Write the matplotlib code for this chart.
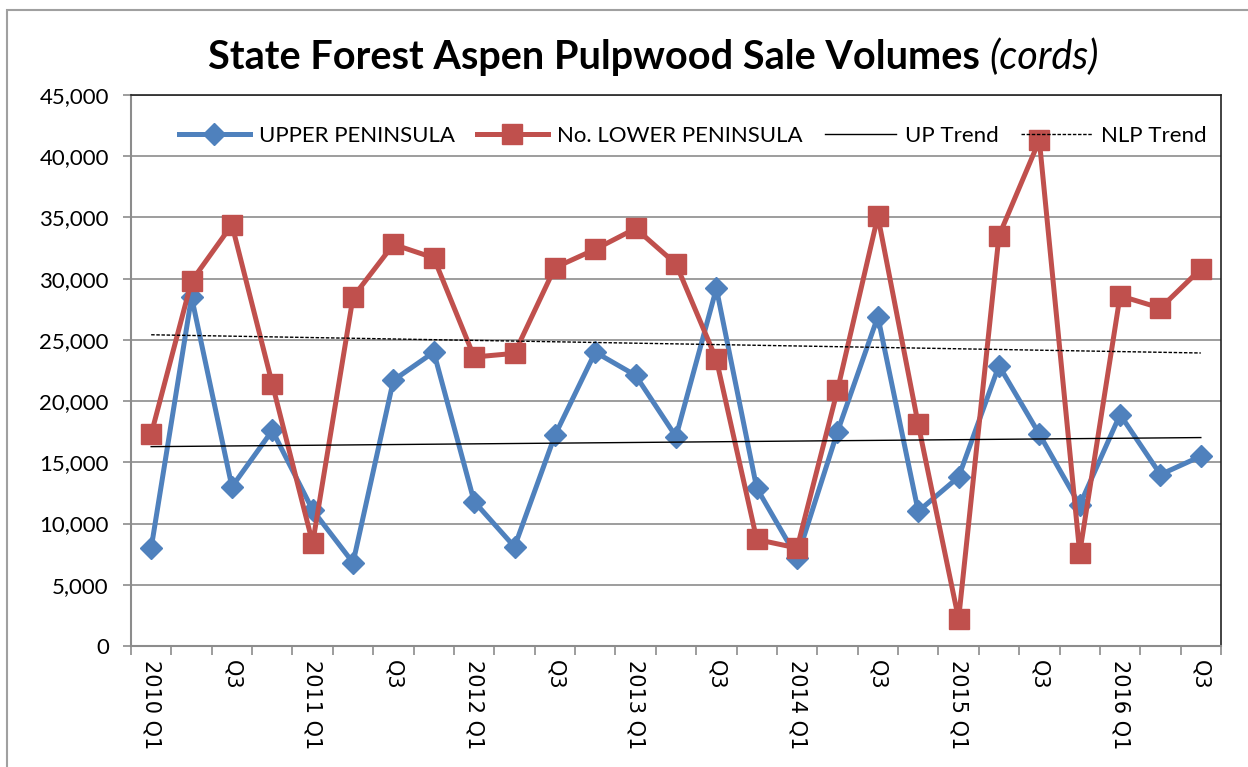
import numpy as np
import matplotlib
matplotlib.use("Agg")
import matplotlib.pyplot as plt
from matplotlib.patches import Rectangle

quarters = ["2010 Q1", "Q2", "Q3", "Q4",
            "2011 Q1", "Q2", "Q3", "Q4",
            "2012 Q1", "Q2", "Q3", "Q4",
            "2013 Q1", "Q2", "Q3", "Q4",
            "2014 Q1", "Q2", "Q3", "Q4",
            "2015 Q1", "Q2", "Q3", "Q4",
            "2016 Q1", "Q2", "Q3"]

up_vol = [8000, 28500, 13000, 17600,
          11100, 6800, 21700, 24000,
          11800, 8100, 17200, 24000,
          22100, 17100, 29200, 12900,
          7200, 17500, 26900, 11000,
          13800, 22900, 17300, 11500,
          18900, 14000, 15500]

nlp_vol = [17300, 29800, 34400, 21400,
           8400, 28500, 32800, 31700,
           23600, 23900, 30900, 32400,
           34100, 31200, 23400, 8700,
           8000, 20900, 35100, 18100,
           2200, 33500, 41300, 7600,
           28600, 27600, 30800]

blue = "#4F81BD"
red = "#C0504D"

plt.rcParams['font.family'] = ['Lato', 'DejaVu Sans']

fig = plt.figure(figsize=(12.48, 7.67), dpi=100)
ax = fig.add_axes([131/1248, 1-646/767, (1221-131)/1248, (646-95)/767])

x = np.arange(len(quarters))

# linear trends, same as excel's
up_fit = np.polyfit(x, up_vol, 1)
nlp_fit = np.polyfit(x, nlp_vol, 1)

ax.plot(x, up_vol, color=blue, lw=3.6, marker='D', ms=11, label="UPPER PENINSULA", zorder=3)
ax.plot(x, nlp_vol, color=red, lw=3.6, marker='s', ms=14, label="No. LOWER PENINSULA", zorder=4)
ax.plot(x, np.polyval(up_fit, x), color='k', lw=1.0, label="UP Trend", zorder=5)
ax.plot(x, np.polyval(nlp_fit, x), color='k', lw=1.0, ls=(0, (2.5, 1.2)), label="NLP Trend", zorder=5)

ax.set_xlim(-0.5, len(quarters)-0.5)
ax.set_ylim(0, 45000)
ax.set_yticks(np.arange(0, 45001, 5000))
ax.set_yticklabels(["{:,}".format(v) for v in range(0, 45001, 5000)], fontsize=16)
ax.yaxis.grid(True, color='#8c8c8c', lw=1.2)
ax.set_axisbelow(True)

ax.set_xticks(x[::2])
ax.set_xticklabels(quarters[::2], rotation=270, fontsize=15, family='DejaVu Sans')
ax.set_xticks(np.arange(-0.5, len(quarters), 1), minor=True)
ax.tick_params(axis='x', which='major', length=0, pad=10)
ax.tick_params(axis='x', which='minor', length=6.5, color='#8c8c8c', width=1.2)
ax.tick_params(axis='y', length=6, color='#8c8c8c', width=1.2, pad=10)

for s in ['left', 'bottom']:
    ax.spines[s].set_color('#8c8c8c')
    ax.spines[s].set_linewidth(1.5)
for s in ['top', 'right']:
    ax.spines[s].set_color('#222222')
    ax.spines[s].set_linewidth(1.2)

leg = ax.legend(loc='upper center', ncol=4, frameon=False, fontsize=16,
                bbox_to_anchor=(0.515, 1.0), handlelength=3.2, columnspacing=1.0,
                handletextpad=0.4, borderaxespad=1.0)

# outer chart frame
fig.patches.append(Rectangle((7/1248, -0.05), 1.1, 1-10/767+0.05, transform=fig.transFigure,
                             fill=False, ec='#a0a0a0', lw=1.5))

t1 = fig.text(208/1248, 1-57/767, "State Forest Aspen Pulpwood Sale Volumes ", fontsize=28.5,
              fontweight='bold', va='center', ha='left')
fig.canvas.draw()
bb = t1.get_window_extent()
fig.text(bb.x1/1248, 1-57/767, "(cords)", fontsize=28.5, style='italic', va='center', ha='left')

fig.savefig("out.png", dpi=100)
